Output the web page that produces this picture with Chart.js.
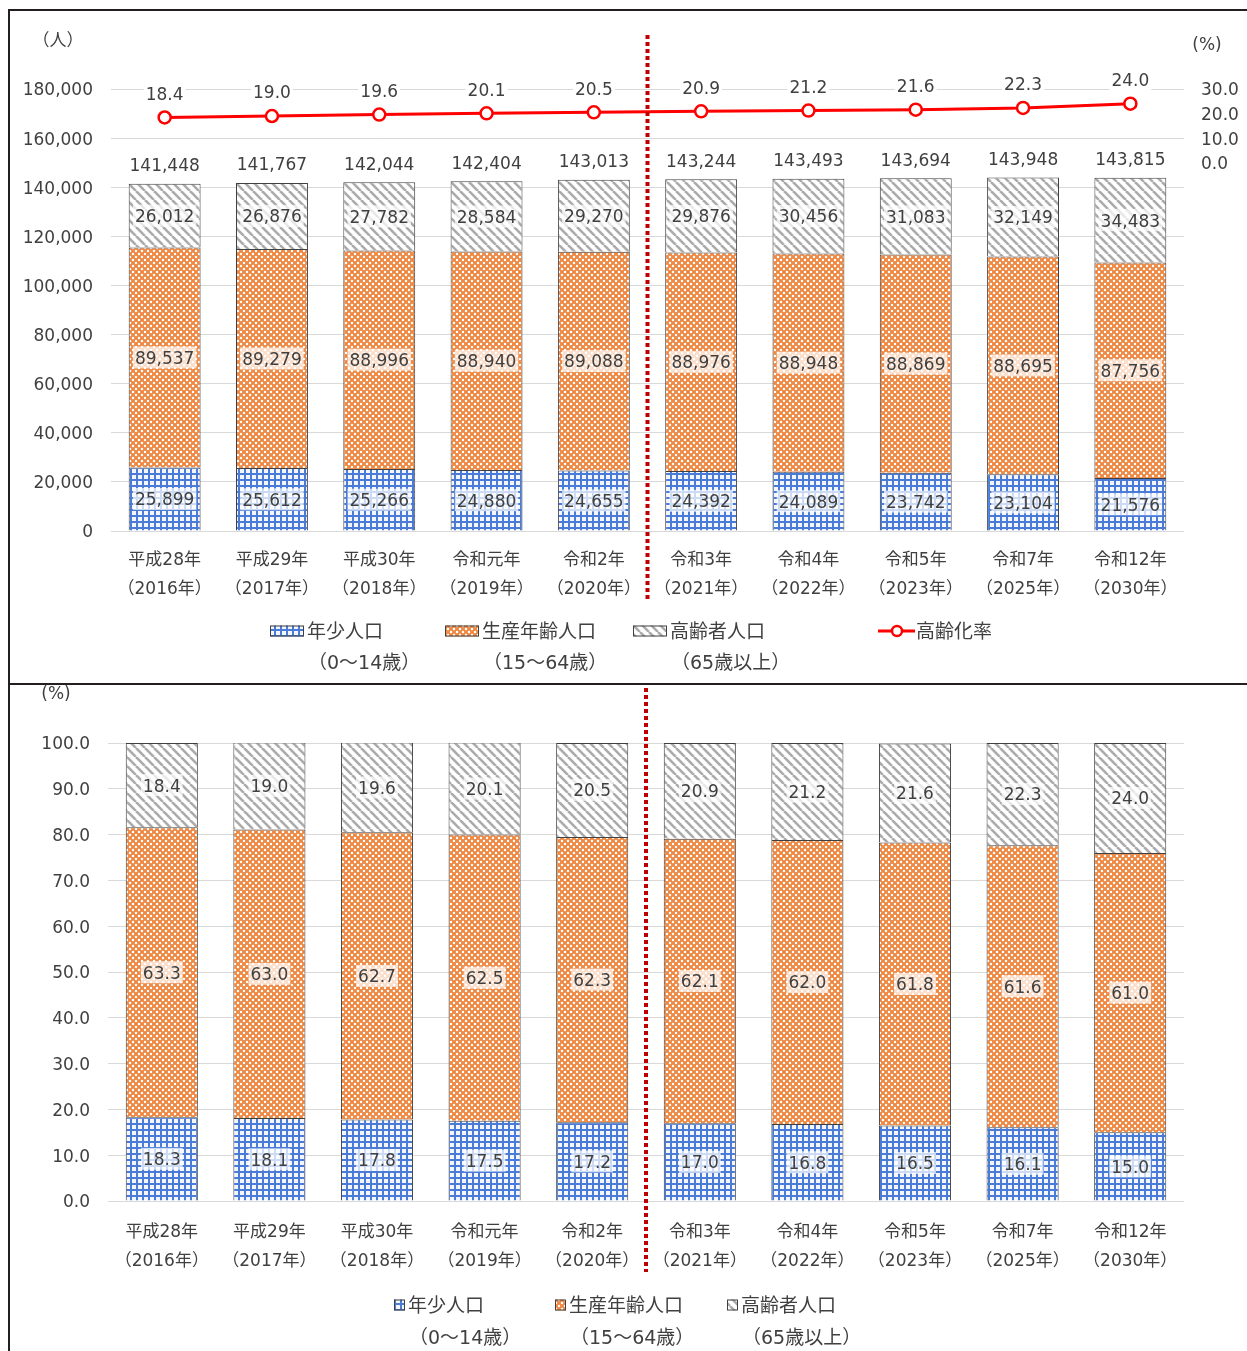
<!DOCTYPE html>
<html lang="ja">
<head>
<meta charset="UTF-8" />
<title>年齢3区分別人口の推移</title>
<script src="https://cdn.jsdelivr.net/npm/chart.js"></script>
<style>
  * { box-sizing: border-box; margin: 0; padding: 0; }
  body { background: #fff; width: 1247px; height: 1351px; overflow: hidden; }
  .marco {
    position: absolute; left: 8px; top: 9px; width: 1260px;
    border-left: 2px solid #231f20; border-top: 2px solid #231f20;
  }
  .panel-arriba { position: relative; width: 1237px; height: 674px; border-bottom: 2px solid #231f20; }
  .panel-abajo { position: relative; width: 1237px; height: 666px; }
</style>
</head>
<body>
<div class="marco">
  <div class="panel-arriba"><canvas id="graficoPersonas"></canvas></div>
  <div class="panel-abajo"><canvas id="graficoPorcentaje"></canvas></div>
</div>

<script>
  // datos
  const anios = [
    ['平成28年', '（2016年）'], ['平成29年', '（2017年）'], ['平成30年', '（2018年）'],
    ['令和元年', '（2019年）'], ['令和2年', '（2020年）'], ['令和3年', '（2021年）'],
    ['令和4年', '（2022年）'], ['令和5年', '（2023年）'], ['令和7年', '（2025年）'],
    ['令和12年', '（2030年）']
  ];
  const nombres = ['年少人口', '生産年齢人口', '高齢者人口'];
  const edades = ['（0～14歳）', '（15～64歳）', '（65歳以上）'];
  const nombreTasa = '高齢化率';

  const jovenes = [25899, 25612, 25266, 24880, 24655, 24392, 24089, 23742, 23104, 21576];
  const activos = [89537, 89279, 88996, 88940, 89088, 88976, 88948, 88869, 88695, 87756];
  const mayores = [26012, 26876, 27782, 28584, 29270, 29876, 30456, 31083, 32149, 34483];
  const totales = [141448, 141767, 142044, 142404, 143013, 143244, 143493, 143694, 143948, 143815];
  const tasa = [18.4, 19.0, 19.6, 20.1, 20.5, 20.9, 21.2, 21.6, 22.3, 24.0];

  const pctJovenes = [18.3, 18.1, 17.8, 17.5, 17.2, 17.0, 16.8, 16.5, 16.1, 15.0];
  const pctActivos = [63.3, 63.0, 62.7, 62.5, 62.3, 62.1, 62.0, 61.8, 61.6, 61.0];
  const pctMayores = [18.4, 19.0, 19.6, 20.1, 20.5, 20.9, 21.2, 21.6, 22.3, 24.0];

  const FUENTE = "'DejaVu Sans', 'Noto Sans CJK JP', sans-serif";
  const TEXTO = '#404040';
  const BAJA = 2; // ajuste vertical del texto
  Chart.defaults.font.family = FUENTE;
  Chart.defaults.color = TEXTO;

  // tramas de relleno
  function trama(tam, dibujar) {
    const c = document.createElement('canvas');
    c.width = tam; c.height = tam;
    const g = c.getContext('2d');
    dibujar(g, tam);
    return g.createPattern(c, 'repeat');
  }
  const tramaAzul = trama(6, (g, t) => {
    g.fillStyle = '#f3f6fc'; g.fillRect(0, 0, t, t);
    g.fillStyle = '#4a7bd6';
    g.fillRect(0, 0, t, 2); g.fillRect(0, 0, 2, t);
  });
  const tramaNaranja = trama(6, (g, t) => {
    g.fillStyle = '#ee8843'; g.fillRect(0, 0, t, t);
    g.fillStyle = '#ffffff';
    [[0, 0], [6, 0], [0, 6], [6, 6], [3, 3]].forEach(([x, y]) => {
      g.beginPath(); g.arc(x, y, 1.25, 0, Math.PI * 2); g.fill();
    });
  });
  const tramaGris = trama(9, (g, t) => {
    g.fillStyle = '#ffffff'; g.fillRect(0, 0, t, t);
    g.strokeStyle = '#ababab'; g.lineWidth = 2.6;
    [-t, 0, t].forEach(x => {
      g.beginPath(); g.moveTo(x, 0); g.lineTo(x + t, t); g.stroke();
    });
  });
  const tramas = [tramaAzul, tramaNaranja, tramaGris];

  function caja(ctx, txt, x, y, fondo) {
    const w = ctx.measureText(txt).width + 4;
    ctx.fillStyle = fondo;
    ctx.fillRect(x - w / 2, y - 11, w, 22);
    ctx.fillStyle = TEXTO;
    ctx.fillText(txt, x, y + BAJA);
  }

  const extras = {
    id: 'extras',
    afterDatasetsDraw(chart, args, opts) {
      const ctx = chart.ctx;
      ctx.save();
      ctx.font = '17px ' + FUENTE;
      ctx.textAlign = 'center';
      ctx.textBaseline = 'middle';
      chart.data.datasets.forEach((ds, i) => {
        const meta = chart.getDatasetMeta(i);
        meta.data.forEach((el, j) => {
          if (meta.type === 'line') {
            caja(ctx, ds.data[j].toFixed(1), el.x, el.y - 24, '#ffffff');
          } else {
            caja(ctx, opts.formato(ds.data[j]), el.x, (el.y + el.base) / 2, 'rgba(255,255,255,0.72)');
          }
        });
      });
      if (opts.totales) {
        const meta = chart.getDatasetMeta(2);
        ctx.fillStyle = TEXTO;
        meta.data.forEach((el, j) => ctx.fillText(opts.formato(opts.totales[j]), el.x, el.y - 19 + BAJA));
      }
      // linea de corte entre datos reales y proyeccion
      const xs = chart.scales.x;
      const xc = (xs.getPixelForValue(4) + xs.getPixelForValue(5)) / 2;
      ctx.strokeStyle = '#c00000';
      ctx.lineWidth = 4;
      ctx.setLineDash([4, 3]);
      ctx.beginPath();
      ctx.moveTo(xc, opts.corte[0]);
      ctx.lineTo(xc, opts.corte[1]);
      ctx.stroke();
      ctx.restore();
    },
    afterDraw(chart, args, opts) {
      const ctx = chart.ctx;
      ctx.save();
      ctx.textBaseline = 'middle';
      ctx.fillStyle = TEXTO;
      ctx.font = '17px ' + FUENTE;
      ctx.textAlign = 'center';
      opts.unidades.forEach(u => ctx.fillText(u.texto, u.x, u.y + BAJA));
      // leyenda
      const L = opts.leyenda;
      chart.data.datasets.forEach((ds, i) => {
        const x = L.x[i];
        const y = L.y;
        ctx.font = L.fuente + 'px ' + FUENTE;
        ctx.textAlign = 'left';
        let xt;
        if (ds.type === 'line') {
          ctx.strokeStyle = '#ff0000'; ctx.lineWidth = 3;
          ctx.beginPath(); ctx.moveTo(x, y); ctx.lineTo(x + 37, y); ctx.stroke();
          ctx.fillStyle = '#fff'; ctx.lineWidth = 2.5;
          ctx.beginPath(); ctx.arc(x + 19, y, 5, 0, Math.PI * 2); ctx.fill(); ctx.stroke();
          xt = x + 38;
        } else {
          ctx.fillStyle = ds.backgroundColor;
          ctx.fillRect(x, y - L.alto / 2, L.ancho, L.alto);
          ctx.strokeStyle = '#404040'; ctx.lineWidth = 1;
          ctx.strokeRect(x + 0.5, y - L.alto / 2 + 0.5, L.ancho - 1, L.alto - 1);
          xt = x + L.ancho + 3;
        }
        ctx.fillStyle = TEXTO;
        ctx.fillText(ds.label, xt, y + BAJA);
        if (ds.sub) ctx.fillText(ds.sub, x + L.sangria, y + L.salto + BAJA);
      });
      ctx.restore();
    }
  };

  function barras(valores) {
    return valores.map((v, i) => ({
      type: 'bar', label: nombres[i], sub: edades[i], data: v,
      backgroundColor: tramas[i], borderColor: '#404040', borderWidth: 1,
      barPercentage: 0.67, categoryPercentage: 1, yAxisID: 'y', order: 1
    }));
  }

  const ticksX = { font: { size: 17, lineHeight: 1.7 }, color: TEXTO, maxRotation: 0, autoSkip: false };

  new Chart(document.getElementById('graficoPersonas'), {
    data: {
      labels: anios,
      datasets: [
        ...barras([jovenes, activos, mayores]),
        {
          type: 'line', label: nombreTasa, data: tasa, yAxisID: 'y2', order: 0,
          borderColor: '#ff0000', borderWidth: 3, pointRadius: 6,
          pointBackgroundColor: '#ffffff', pointBorderColor: '#ff0000', pointBorderWidth: 2.5
        }
      ]
    },
    options: {
      responsive: true, maintainAspectRatio: false, animation: false,
      events: [],
      layout: { padding: { top: 78, left: 0, right: 0, bottom: 0 } },
      plugins: {
        legend: { display: false }, tooltip: { enabled: false },
        extras: {
          formato: v => v.toLocaleString('en-US'),
          totales: totales,
          corte: [24, 589],
          unidades: [{ texto: '（人）', x: 48, y: 29 }, { texto: '(%)', x: 1197, y: 33 }],
          leyenda: { x: [260, 435, 623, 868], y: 620, ancho: 34, alto: 11, fuente: 19, sangria: 38, salto: 31 }
        }
      },
      scales: {
        x: {
          stacked: true, grid: { display: false }, border: { display: false },
          ticks: { ...ticksX, padding: 7 },
          afterFit(s) { s.height = 152; }
        },
        y: {
          stacked: true, min: 0, max: 180000,
          grid: { color: '#d9d9d9', drawTicks: false }, border: { display: false },
          ticks: { stepSize: 20000, padding: 18, labelOffset: 2, font: { size: 17 }, callback: v => v.toLocaleString('en-US') },
          afterFit(s) { s.width = 101; }
        },
        y2: {
          position: 'right', min: -150, max: 30,
          grid: { display: false, drawTicks: false }, border: { display: false },
          ticks: { stepSize: 10, padding: 17, labelOffset: 2, font: { size: 17 }, callback: v => v >= 0 ? v.toFixed(1) : '' },
          afterFit(s) { s.width = 63; }
        }
      }
    },
    plugins: [extras]
  });

  new Chart(document.getElementById('graficoPorcentaje'), {
    data: {
      labels: anios,
      datasets: barras([pctJovenes, pctActivos, pctMayores])
    },
    options: {
      responsive: true, maintainAspectRatio: false, animation: false,
      events: [],
      layout: { padding: { top: 58, left: 0, right: 63, bottom: 0 } },
      plugins: {
        legend: { display: false }, tooltip: { enabled: false },
        extras: {
          formato: v => v.toFixed(1),
          corte: [3, 587],
          unidades: [{ texto: '(%)', x: 46, y: 8 }],
          leyenda: { x: [384, 545, 717], y: 620, ancho: 11, alto: 11, fuente: 19, sangria: 15, salto: 32 }
        }
      },
      scales: {
        x: {
          stacked: true, grid: { display: false }, border: { display: false },
          ticks: { ...ticksX, padding: 9 },
          afterFit(s) { s.height = 150; }
        },
        y: {
          stacked: true, min: 0, max: 100,
          grid: { color: '#d9d9d9', drawTicks: false }, border: { display: false },
          ticks: { stepSize: 10, padding: 18, labelOffset: 2, font: { size: 17 }, callback: v => v.toFixed(1) },
          afterFit(s) { s.width = 98; }
        }
      }
    },
    plugins: [extras]
  });
</script>
</body>
</html>
